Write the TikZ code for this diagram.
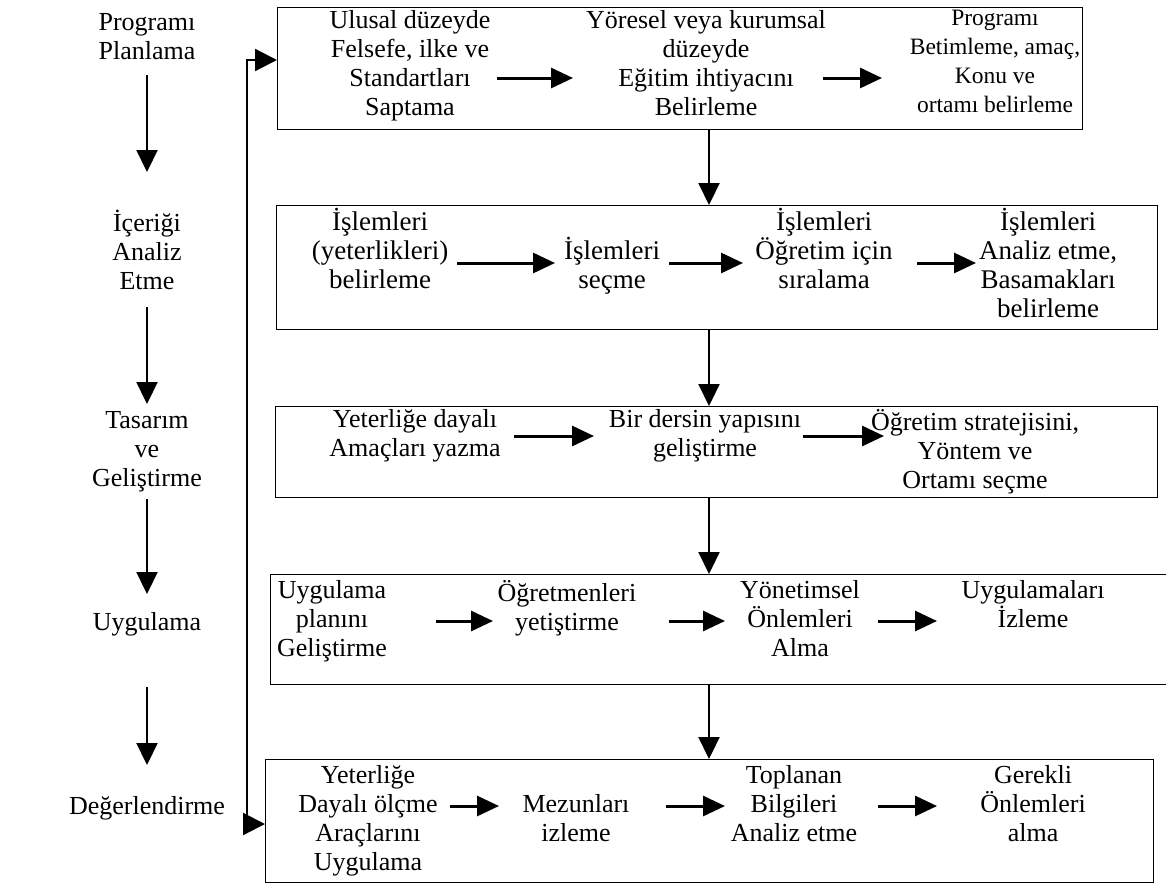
\documentclass[tikz,border=0pt]{standalone}
\usepackage{fontspec}
\setmainfont{Liberation Serif}
\usetikzlibrary{arrows.meta}
\begin{document}
\begin{tikzpicture}[x=1pt,y=-1pt,
  txt/.style={align=center, anchor=north, inner sep=0pt, font=\fontsize{26}{29}\selectfont, execute at begin node=\strut},
  small/.style={font=\fontsize{23.5}{29}\selectfont},
  big/.style={font=\fontsize{27}{29}\selectfont},
  box/.style={draw, line width=1.4pt, inner sep=0pt, anchor=north west},
  varr/.style={-{Triangle[length=22pt,width=21pt]}, line width=2.2pt},
  harr/.style={-{Triangle[length=22pt,width=20pt]}, line width=3pt},
  fb/.style={{Triangle[length=22pt,width=22pt]}-{Triangle[length=22pt,width=22pt]}, line width=2.2pt}]
\useasboundingbox (0,0) rectangle (1166,883);

% boxes
\node[box, minimum width=805pt, minimum height=122pt] (B1) at (277,7) {};
\node[box, minimum width=881pt, minimum height=124pt] (B2) at (276,205) {};
\node[box, minimum width=882pt, minimum height=91pt] (B3) at (275,406) {};
\node[box, minimum width=910pt, minimum height=110pt] (B4) at (270,574) {};
\node[box, minimum width=888pt, minimum height=123pt] (B5) at (265,759) {};

% left column
\node[txt] (L1) at (147,13) {Programı\\Planlama};
\node[txt] (L2) at (147,210) {İçeriği\\Analiz\\Etme};
\node[txt] (L3) at (147,411) {Tasarım\\ve\\Geliştirme};
\node[txt] (L4) at (147,610) {Uygulama};
\node[txt] (L5) at (147,794) {Değerlendirme};
\draw[varr] (L1.south |- 0,75) -- (L2.north |- 0,172);
\draw[varr] (L2.south |- 0,307) -- (L3.north |- 0,404);
\draw[varr] (L3.south |- 0,499) -- (L4.north |- 0,594);
\draw[varr] (L4.south |- 0,687) -- (L5.north |- 0,765);

% box 1
\node[txt] (A1) at (410,10) {Ulusal düzeyde\\Felsefe, ilke ve\\Standartları\\Saptama};
\node[txt] (A2) at (706,10) {Yöresel veya kurumsal\\düzeyde\\Eğitim ihtiyacını\\Belirleme};
\node[txt, small] (A3) at (995,10) {Programı\\Betimleme, amaç,\\Konu ve\\ortamı belirleme};

% box 2
\node[txt, big] (C1) at (380,208) {İşlemleri\\(yeterlikleri)\\belirleme};
\node[txt, big] (C2) at (612,237) {İşlemleri\\seçme};
\node[txt, big] (C3) at (824,208) {İşlemleri\\Öğretim için\\sıralama};
\node[txt, big] (C4) at (1048,208) {İşlemleri\\Analiz etme,\\Basamakları\\belirleme};

% box 3
\node[txt] (D1) at (415,409) {Yeterliğe dayalı\\Amaçları yazma};
\node[txt] (D2) at (705,409) {Bir dersin yapısını\\geliştirme};
\node[txt] (D3) at (975,409) {Öğretim stratejisini,\\Yöntem ve\\Ortamı seçme};

% box 4
\node[txt] (E1) at (332,580) {Uygulama\\planını\\Geliştirme};
\node[txt] (E2) at (567,580) {Öğretmenleri\\yetiştirme};
\node[txt] (E3) at (800,580) {Yönetimsel\\Önlemleri\\Alma};
\node[txt] (E4) at (1033,580) {Uygulamaları\\İzleme};

% box 5
\node[txt] (F1) at (368,765) {Yeterliğe\\Dayalı ölçme\\Araçlarını\\Uygulama};
\node[txt] (F2) at (576,794) {Mezunları\\izleme};
\node[txt] (F3) at (794,765) {Toplanan\\Bilgileri\\Analiz etme};
\node[txt] (F4) at (1033,765) {Gerekli\\Önlemleri\\alma};

% arrow end points inside boxes
\foreach \n/\x/\y in {a1s/497/78, a1e/573/78, a2s/823/78, a2e/882/78,
  c1s/457/263, c1e/555/263, c2s/669/263, c2e/743/263, c3s/917/263, c3e/976/263,
  d1s/514/436, d1e/594/436, d2s/803/436, d2e/884/436,
  e1s/436/621, e1e/493/621, e2s/669/621, e2e/725/621, e3s/878/621, e3e/937/621,
  f1s/450/806, f1e/499/806, f2s/666/806, f2e/725/806, f3s/878/806, f3e/937/806}
  \coordinate (\n) at (\x,\y);
\foreach \a in {a1,a2,c1,c2,c3,d1,d2,e1,e2,e3,f1,f2,f3}
  \draw[harr] (\a s) -- (\a e);

% vertical arrows between boxes
\coordinate (vx) at (709,0);
\draw[varr] (vx |- B1.south) -- (vx |- B2.north);
\draw[varr] (vx |- B2.south) -- (vx |- B3.north);
\draw[varr] (vx |- B3.south) -- (vx |- B4.north);
\draw[varr] (vx |- B4.south) -- (vx |- B5.north);

% feedback line
\coordinate (fbt) at (247,60);
\coordinate (fbb) at (247,824);
\draw[fb] (B1.west |- fbt) -- (fbt) -- (fbb) -- (B5.west |- fbb);
\end{tikzpicture}
\end{document}
